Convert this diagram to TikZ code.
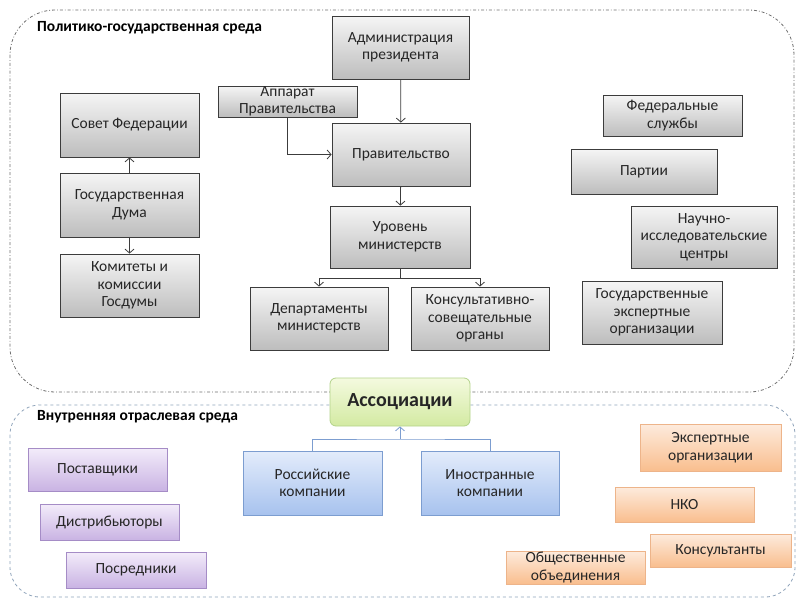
\documentclass[tikz,border=0pt]{standalone}
\usepackage{fontspec}
\setmainfont{Carlito}
\usepackage{tikz}
\usetikzlibrary{arrows,arrows.meta}

\definecolor{greytop}{HTML}{F5F5F5}
\definecolor{greybot}{HTML}{BDBDBD}
\definecolor{greyline}{HTML}{3C3C3C}
\definecolor{violtop}{HTML}{F3ECFA}
\definecolor{violbot}{HTML}{C9B3E3}
\definecolor{violline}{HTML}{A58CC6}
\definecolor{bluetop}{HTML}{E3ECFB}
\definecolor{bluebot}{HTML}{A7C2EE}
\definecolor{blueline}{HTML}{7C9DD0}
\definecolor{orantop}{HTML}{FDEBDD}
\definecolor{oranbot}{HTML}{F9BE8E}
\definecolor{oranline}{HTML}{EDB48A}
\definecolor{greentop}{HTML}{F4FADF}
\definecolor{greenbot}{HTML}{D3EAA2}
\definecolor{greenline}{HTML}{B3D38A}
\definecolor{framegrey}{HTML}{6E6E6E}
\definecolor{frameblue}{HTML}{8FA3BA}
\definecolor{textgrey}{HTML}{262626}

\tikzset{
  wh/.style 2 args={minimum width=#1pt, minimum height=#2pt},
  box/.style={line width=0.8pt, align=center, inner sep=0pt, text=textgrey,
    font=\fontsize{15.5}{17.5}\selectfont},
  greybox/.style={box, draw=greyline, top color=greytop, bottom color=greybot},
  violbox/.style={box, draw=violline, top color=violtop, bottom color=violbot},
  bluebox/.style={box, draw=blueline, top color=bluetop, bottom color=bluebot},
  oranbox/.style={box, draw=oranline, top color=orantop, bottom color=oranbot},
  title/.style={anchor=west, inner sep=0pt, font=\fontsize{15.5}{18}\selectfont\bfseries},
  link/.style={draw=greyline, line width=0.8pt, >={Straight Barb[length=4pt,width=9pt]}},
  bluelink/.style={draw=blueline, line width=0.8pt, >={Straight Barb[length=4pt,width=9pt]}}
}

\begin{document}
\begin{tikzpicture}[x=1pt,y=-1pt]
    \useasboundingbox (0,0) rectangle (801,600);

    % frames
    \draw[framegrey, line width=0.8pt, dash dot, rounded corners=45pt] (10,10) rectangle (794,392);
    \draw[frameblue, line width=0.8pt, dashed, rounded corners=30pt] (10,405) rectangle (795,597);
    \node[title] (polit) at (37,28) {Политико-государственная среда};
    \node[title] (vnutr) at (37,417) {Внутренняя отраслевая среда};

    % political environment
    \node[greybox, wh={137}{63}] (adm) at (400.5,47.5) {Администрация\\президента};
    \node[greybox, wh={139}{31}] (app) at (287.5,101.5) {Аппарат\\Правительства};
    \node[greybox, wh={138}{63}] (prav) at (401,154.5) {Правительство};
    \node[greybox, wh={140}{62}] (urov) at (400,237) {Уровень\\министерств};
    \node[greybox, wh={138}{63}] (dep) at (319,318.5) {Департаменты\\министерств};
    \node[greybox, wh={138}{63}] (kons) at (480,318.5) {Консультативно-\\совещательные\\органы};

    \node[greybox, wh={139}{64}] (sovet) at (129.5,125) {Совет Федерации};
    \node[greybox, wh={139}{64}] (duma) at (129.5,205) {Государственная\\Дума};
    \node[greybox, wh={139}{63}] (komit) at (129.5,285.5) {Комитеты и\\комиссии\\Госдумы};

    \node[greybox, wh={139}{41}] (fed) at (672.5,115.5) {Федеральные\\службы};
    \node[greybox, wh={146}{45}] (part) at (644,171.5) {Партии};
    \node[greybox, wh={146}{62}] (nauch) at (704,237) {Научно-\\исследовательские\\центры};
    \node[greybox, wh={140}{63}] (gosexp) at (652,312.5) {Государственные\\экспертные\\организации};

    \draw[link,->] (adm) -- (prav);
    \draw[link,->] (app.south) |- (prav.west);
    \draw[link,->] (prav) -- (urov);
    \coordinate (fork) at (400,278);
    \draw[link] (urov.south) -- (fork);
    \draw[link,->] (fork) -| (dep.north);
    \draw[link,->] (fork) -| (kons.north);
    \draw[link,->] (duma) -- (sovet);
    \draw[link,->] (duma) -- (komit);

    % associations
    \node[box, draw=greenline, top color=greentop, bottom color=greenbot, rounded corners=6pt,
      wh={140}{48}, font=\fontsize{20}{22}\selectfont\bfseries] (assoc) at (400,402) {Ассоциации};

    % industry environment
    \node[bluebox, wh={139}{64}] (ros) at (312.5,483) {Российские\\компании};
    \node[bluebox, wh={138}{64}] (inos) at (490,483) {Иностранные\\компании};
    \coordinate (join) at (400,439);
    \draw[bluelink] (ros.north) |- (join) -| (inos.north);
    \draw[bluelink,->] (join) -- (assoc);

    \node[violbox, wh={139}{43}] (post) at (97.5,469.5) {Поставщики};
    \node[violbox, wh={139}{36}] (distr) at (109.5,522) {Дистрибьюторы};
    \node[violbox, wh={140}{36}] (posr) at (136,570) {Посредники};

    \node[oranbox, wh={141}{47}] (ekspert) at (710.5,447.5) {Экспертные\\организации};
    \node[oranbox, wh={139}{35}] (nko) at (684.5,504.5) {НКО};
    \node[oranbox, wh={141}{33}] (konsult) at (720.5,550.5) {Консультанты};
    \node[oranbox, wh={139}{33}] (obsh) at (575.5,567.5) {Общественные\\объединения};
\end{tikzpicture}
\end{document}
